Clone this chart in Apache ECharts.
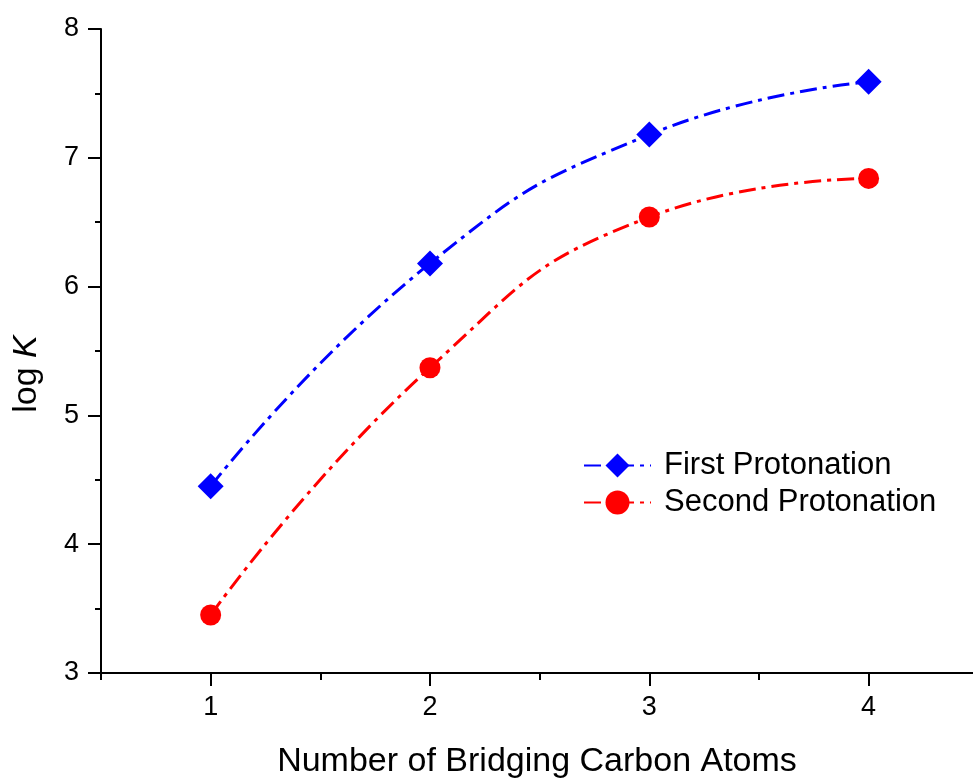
<!DOCTYPE html>
<html>
<head>
<meta charset="utf-8">
<script src="https://cdn.jsdelivr.net/npm/echarts@6/dist/echarts.min.js"></script>
<style>
html, body { margin: 0; padding: 0; background: #fff; }
#chart { width: 973px; height: 780px; }
</style>
</head>
<body>
<div id="chart"></div>
<script>
// bridging carbon count vs log K
let carbonAtoms = [1, 2, 3, 4];
let firstProt = [4.45, 6.18, 7.18, 7.59];
let secondProt = [3.45, 5.37, 6.54, 6.84];
let xTickLabels = [1, 2, 3, 4];
let xMinorTicks = [0.5, 1.5, 2.5, 3.5];

let font = "Liberation Sans, Arial, sans-serif";

function pairs(xs, ys) {
	let out = [];
	for (let i = 0; i < xs.length; i++) {
		out.push([xs[i], ys[i]]);
	}
	return out;
}

let myChart = echarts.init(document.getElementById("chart"), null, { renderer: "canvas" });
let dash = [17, 6, 4, 6];
// axis runs a bit past the right edge of the picture
let xMax = 4.476;
let option = {
	backgroundColor: "#ffffff",
	animation: false,
	grid: { left: 101, top: 29, bottom: 107, right: 0, containLabel: false, outerBoundsMode: "none" },
	legend: {
		orient: "vertical",
		left: 578,
		top: 445,
		itemWidth: 67,
		itemHeight: 30,
		itemGap: 6,
		textStyle: { fontFamily: font, fontSize: 31, color: "#000", padding: [0, 0, 0, 8] },
		data: ["First Protonation", "Second Protonation"]
	},
	xAxis: [{
		type: "value",
		min: 0.5,
		max: xMax,
		splitLine: { show: false },
		axisLine: { lineStyle: { color: "#000", width: 2 } },
		axisTick: { show: true, customValues: xMinorTicks, length: 7, lineStyle: { width: 2, color: "#000" } },
		axisLabel: { customValues: xTickLabels, margin: 21, fontFamily: font, fontSize: 27, color: "#000" },
		name: "Number of Bridging Carbon Atoms",
		nameLocation: "middle",
		nameGap: 72,
		nameTextStyle: { fontFamily: font, fontSize: 34, color: "#000" }
	}, {
		type: "value",
		position: "bottom",
		min: 0.5,
		max: xMax,
		splitLine: { show: false },
		axisLine: { show: false },
		axisTick: { show: true, customValues: xTickLabels, length: 13, lineStyle: { width: 2, color: "#000" } },
		axisLabel: { show: false }
	}],
	yAxis: {
		type: "value",
		min: 3,
		max: 8,
		interval: 1,
		splitLine: { show: false },
		axisLine: { show: true, lineStyle: { color: "#000", width: 2 } },
		axisTick: { show: true, length: 13, lineStyle: { width: 2, color: "#000" } },
		minorTick: { show: true, splitNumber: 2, length: 6, lineStyle: { width: 2, color: "#000" } },
		axisLabel: { margin: 22, fontFamily: font, fontSize: 27, color: "#000" },
		name: "{n|log }{k|K}",
		nameLocation: "middle",
		nameGap: 57,
		nameRotate: 90,
		nameTextStyle: {
			padding: [0, 46, 0, 0],
			rich: {
				n: { fontFamily: font, fontSize: 34, color: "#000" },
				k: { fontFamily: font, fontSize: 34, fontStyle: "italic", color: "#000" }
			}
		}
	},
	series: [{
		name: "First Protonation",
		type: "line",
		smooth: true,
		data: pairs(carbonAtoms, firstProt),
		symbol: "diamond",
		symbolSize: 26,
		itemStyle: { color: "#0000ff" },
		lineStyle: { color: "#0000ff", width: 3, type: dash }
	}, {
		name: "Second Protonation",
		type: "line",
		smooth: true,
		data: pairs(carbonAtoms, secondProt),
		symbol: "circle",
		symbolSize: 21,
		itemStyle: { color: "#ff0000" },
		lineStyle: { color: "#ff0000", width: 3, type: dash }
	}]
};
myChart.setOption(option);
</script>
</body>
</html>
